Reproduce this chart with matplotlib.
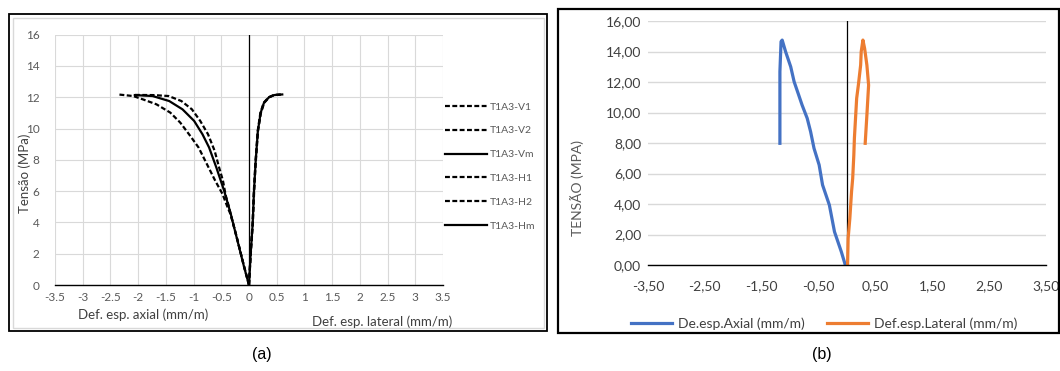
import matplotlib
matplotlib.use("Agg")
import matplotlib.pyplot as plt
from matplotlib.patches import Rectangle
from matplotlib.ticker import FuncFormatter

# ---------------- data: panel (a) ----------------
stress_V1 = [0, 1.2, 2.9, 4.5, 5.0, 5.83, 6.67, 7.73, 8.79, 9.53, 10.38, 11.02, 11.55, 11.86, 12.08, 12.18]
axial_V1 = [0, -0.09, -0.21, -0.33, -0.39, -0.48, -0.61, -0.76, -0.91, -1.06, -1.24, -1.42, -1.67, -1.91, -2.09, -2.36]
stress_V2 = [0, 1.2, 2.9, 4.5, 4.98, 5.72, 6.67, 7.52, 8.58, 9.64, 10.49, 11.23, 11.76, 12.08, 12.14, 12.15]
axial_V2 = [0, -0.09, -0.21, -0.33, -0.36, -0.42, -0.47, -0.54, -0.62, -0.74, -0.88, -1.03, -1.22, -1.45, -1.73, -2.06]
stress_Vm = [0, 1.17, 2.86, 4.56, 6.04, 7.52, 8.79, 9.64, 10.49, 11.23, 11.76, 12.08, 12.14]
axial_Vm = [0, -0.09, -0.21, -0.33, -0.45, -0.59, -0.72, -0.84, -0.99, -1.20, -1.44, -1.74, -2.06]
stress_H = [0, 2.0, 3.9, 6.0, 7.9, 9.85, 11.0, 11.65, 12.0, 12.14, 12.18]
lateral_H1 = [0, 0.028, 0.063, 0.087, 0.117, 0.157, 0.205, 0.265, 0.355, 0.445, 0.59]
lateral_H2 = [0, 0.032, 0.069, 0.093, 0.123, 0.163, 0.215, 0.275, 0.365, 0.455, 0.60]
lateral_Hm = [0, 0.03, 0.066, 0.09, 0.12, 0.16, 0.21, 0.27, 0.36, 0.45, 0.60]
labels_a = ["T1A3-V1", "T1A3-V2", "T1A3-Vm", "T1A3-H1", "T1A3-H2", "T1A3-Hm"]
xticks_a = [-3.5, -3, -2.5, -2, -1.5, -1, -0.5, 0, 0.5, 1, 1.5, 2, 2.5, 3, 3.5]
yticks_a = [0, 2, 4, 6, 8, 10, 12, 14, 16]

# ---------------- data: panel (b) ----------------
axial_b = [-0.03, -0.10, -0.22, -0.31, -0.43, -0.49, -0.58, -0.64, -0.70, -0.79,
           -0.85, -0.93, -0.99, -1.08, -1.14, -1.16, -1.18, -1.18]
stress_axial_b = [0, 0.87, 2.18, 3.93, 5.25, 6.56, 7.65, 8.74, 9.62, 10.49,
                  11.15, 12.02, 13.0, 13.99, 14.75, 14.65, 12.68, 7.98]
lateral_b = [0.01, 0.02, 0.05, 0.08, 0.10, 0.12, 0.13, 0.15, 0.17, 0.20,
             0.24, 0.25, 0.28, 0.31, 0.35, 0.38, 0.35, 0.32]
stress_lateral_b = [0, 1.75, 3.06, 4.81, 5.68, 7.21, 8.31, 9.62, 10.93, 11.8,
                    13.11, 13.99, 14.75, 14.2, 13.1, 11.8, 9.84, 7.98]
labels_b = ["De.esp.Axial (mm/m)", "Def.esp.Lateral (mm/m)"]
xticks_b = [-3.5, -2.5, -1.5, -0.5, 0.5, 1.5, 2.5, 3.5]
yticks_b = [0, 2, 4, 6, 8, 10, 12, 14, 16]

W, H = 1060, 371
fig = plt.figure(figsize=(W / 100, H / 100), dpi=100)
fig.patch.set_facecolor("white")
FONT = ["Lato", "DejaVu Sans"]
GRAY = "#595959"


def fx(px):
    return px / W


def fy(py):
    return 1 - py / H


def add_axes_px(l, t, r, b):
    return fig.add_axes([fx(l), fy(b), fx(r - l), (b - t) / H])


# ---------------- frames ----------------
fig.add_artist(Rectangle((fx(9), fy(331)), fx(547 - 9), (331 - 14) / H, fill=False,
                         edgecolor="black", linewidth=1.3, transform=fig.transFigure))
fig.add_artist(Rectangle((fx(12.5), fy(327.5)), fx(543.5 - 12.5), (327.5 - 18) / H, fill=False,
                         edgecolor="#d9d9d9", linewidth=1.0, transform=fig.transFigure))
fig.add_artist(Rectangle((fx(558), fy(333)), fx(1058.5 - 558), (333 - 9) / H, fill=False,
                         edgecolor="black", linewidth=1.6, transform=fig.transFigure))

# ---------------- panel (a) ----------------
ax = add_axes_px(55, 34.7, 443, 285)
lw = 1.6
dash = (0, (2.2, 1.1))
lV1, = ax.plot(axial_V1, stress_V1, color="black", lw=lw, ls=dash)
lV2, = ax.plot(axial_V2, stress_V2, color="black", lw=lw, ls=dash)
lVm, = ax.plot(axial_Vm, stress_Vm, color="black", lw=lw, ls="-")
lH1, = ax.plot(lateral_H1, stress_H, color="black", lw=lw, ls=dash)
lH2, = ax.plot(lateral_H2, stress_H, color="black", lw=lw, ls=dash)
lHm, = ax.plot(lateral_Hm, stress_H, color="black", lw=lw, ls="-")
ax.set_xlim(-3.5, 3.5)
ax.set_ylim(0, 16)
ax.set_xticks(xticks_a)
ax.set_yticks(yticks_a)
ax.xaxis.set_major_formatter(FuncFormatter(lambda v, p: f"{v:g}"))
ax.grid(True, color="#d9d9d9", lw=0.8)
ax.set_axisbelow(True)
for s in ["left", "right", "top"]:
    ax.spines[s].set_visible(False)
ax.spines["bottom"].set_color("black")
ax.spines["bottom"].set_linewidth(1.0)
ax.axvline(0, color="black", lw=0.9)
ax.tick_params(length=0, labelsize=8.5, labelcolor=GRAY)
ax.tick_params(axis="x", pad=5)
ax.tick_params(axis="y", pad=11)
for t in ax.get_xticklabels() + ax.get_yticklabels():
    t.set_family(FONT)
leg = ax.legend([lV1, lV2, lVm, lH1, lH2, lHm], labels_a, loc="upper left",
                bbox_to_anchor=(fx(440), fy(97)), bbox_transform=fig.transFigure,
                frameon=False, handlelength=4.0, handletextpad=0.3,
                labelspacing=1.40, borderpad=0, prop={"family": FONT, "size": 7.5})
for t in leg.get_texts():
    t.set_color(GRAY)
fig.text(fx(25), fy(173), "Tensão (MPa)", rotation=90, ha="center", va="center",
         fontsize=9.5, color="#404040", family=FONT)
fig.text(fx(143), fy(315), "Def. esp. axial (mm/m)", ha="center", va="center",
         fontsize=9.5, color="#404040", family=FONT)
fig.text(fx(382), fy(322), "Def. esp. lateral (mm/m)", ha="center", va="center",
         fontsize=9.5, color="#404040", family=FONT)

# ---------------- panel (b) ----------------
bx = add_axes_px(648, 21, 1046, 265)
la, = bx.plot(axial_b, stress_axial_b, color="#4472C4", lw=2.3, solid_joinstyle="round")
ll, = bx.plot(lateral_b, stress_lateral_b, color="#ED7D31", lw=2.3, solid_joinstyle="round")
bx.set_xlim(-3.5, 3.5)
bx.set_ylim(0, 16)
bx.set_xticks(xticks_b)
bx.set_yticks(yticks_b)
fmt = FuncFormatter(lambda v, p: f"{v:.2f}".replace(".", ","))
bx.xaxis.set_major_formatter(fmt)
bx.yaxis.set_major_formatter(fmt)
bx.grid(True, axis="y", color="#d9d9d9", lw=1.0)
bx.set_axisbelow(True)
for s in ["left", "right", "top"]:
    bx.spines[s].set_visible(False)
bx.spines["bottom"].set_color("black")
bx.spines["bottom"].set_linewidth(1.0)
bx.axvline(0, color="black", lw=0.9, zorder=1.5)
bx.tick_params(length=0, labelsize=10, labelcolor="#404040")
bx.tick_params(axis="x", pad=11)
bx.tick_params(axis="y", pad=5)
for t in bx.get_xticklabels() + bx.get_yticklabels():
    t.set_family(FONT)
fig.text(fx(577), fy(188), "TENSÃO (MPA)", rotation=90, ha="center", va="center",
         fontsize=10, color=GRAY, family=FONT)
legb = fig.legend([la, ll], labels_b, loc="center", bbox_to_anchor=(fx(824), fy(324)),
                  ncol=2, frameon=False, handlelength=3.0, handletextpad=0.4,
                  columnspacing=1.6, borderpad=0, prop={"family": FONT, "size": 10})
for t in legb.get_texts():
    t.set_color("#404040")

# ---------------- captions ----------------
fig.text(fx(262), fy(355), "(a)", ha="center", va="center", fontsize=11.5,
         family="Liberation Sans", color="black")
fig.text(fx(822), fy(355), "(b)", ha="center", va="center", fontsize=11.5,
         family="Liberation Sans", color="black")

fig.savefig("out.png", dpi=100, facecolor="white")
